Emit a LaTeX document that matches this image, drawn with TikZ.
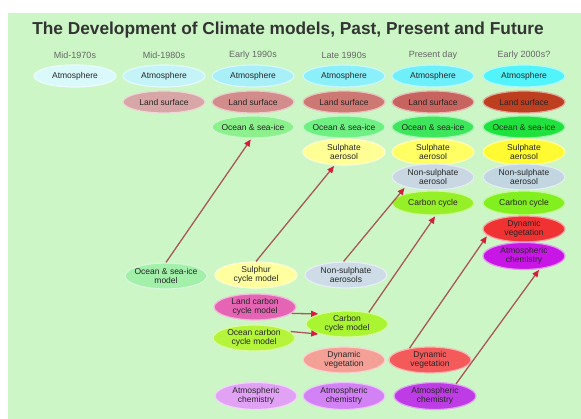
\documentclass[tikz,border=0pt]{standalone}
\usepackage{fontspec}
\setmainfont{Liberation Sans}
\usetikzlibrary{shapes.geometric,arrows.meta}
\definecolor{bg}{RGB}{204,246,198}
\definecolor{arrline}{RGB}{168,88,88}
\definecolor{arrred}{RGB}{212,30,60}
% atmosphere
\definecolor{atA}{RGB}{218,249,250}
\definecolor{atB}{RGB}{196,243,248}
\definecolor{atC}{RGB}{168,239,248}
\definecolor{atD}{RGB}{140,240,250}
\definecolor{atE}{RGB}{110,240,250}
\definecolor{atF}{RGB}{80,244,250}
% land
\definecolor{laB}{RGB}{216,166,166}
\definecolor{laC}{RGB}{210,140,140}
\definecolor{laD}{RGB}{206,120,115}
\definecolor{laE}{RGB}{200,100,95}
\definecolor{laF}{RGB}{190,62,32}
% ocean
\definecolor{ocC}{RGB}{140,240,140}
\definecolor{ocD}{RGB}{110,240,130}
\definecolor{ocE}{RGB}{62,230,92}
\definecolor{ocF}{RGB}{32,226,62}
% sulphate
\definecolor{suD}{RGB}{255,255,150}
\definecolor{suE}{RGB}{255,255,100}
\definecolor{suF}{RGB}{255,250,50}
% non-sulphate
\definecolor{nsE}{RGB}{200,215,226}
\definecolor{nsF}{RGB}{194,214,226}
% carbon
\definecolor{caE}{RGB}{150,240,40}
\definecolor{caF}{RGB}{130,240,30}
% dyn veg / chem
\definecolor{dvF}{RGB}{240,50,50}
\definecolor{acF}{RGB}{200,22,230}
% bottom
\definecolor{bOcm}{RGB}{162,240,170}
\definecolor{bScm}{RGB}{255,255,160}
\definecolor{bNsa}{RGB}{205,220,230}
\definecolor{bLcm}{RGB}{230,100,180}
\definecolor{bOcc}{RGB}{180,245,60}
\definecolor{bCcm}{RGB}{170,245,50}
\definecolor{bDvD}{RGB}{245,160,150}
\definecolor{bDvE}{RGB}{245,90,90}
\definecolor{bAcC}{RGB}{225,162,245}
\definecolor{bAcD}{RGB}{210,130,245}
\definecolor{bAcE}{RGB}{190,60,230}
\tikzset{
  blob/.style={ellipse, minimum width=82pt, inner sep=0pt, draw=#1!45!white, line width=1.2pt, fill=#1},
  txt/.style={align=center, font=\fontsize{8.5}{9.5}\selectfont, text=black!85, inner sep=0pt},
  collabel/.style={font=\fontsize{9}{10}\selectfont, text=black!60, inner sep=0pt},
  titlestyle/.style={font=\fontsize{17.3}{19}\selectfont\bfseries, text=black!80, inner sep=0pt},
  conn/.style={draw=arrline, line width=1.3pt, -{Triangle[length=7pt,width=6pt,color=arrred]}, shorten >=1pt, shorten <=0pt},
}
\newcommand\blobnode[5]{\node[blob=#3, minimum height=#4] (#1) at (#2) {}; \node[txt] (#1t) at (#1) {#5};}
\begin{document}
\begin{tikzpicture}[x=1pt,y=-1pt]
\useasboundingbox (0,0) rectangle (581,419);
\fill[white] (0,0) rectangle (581,419);
\fill[bg] (8,13) rectangle (581,419);
\node[titlestyle] (title) at (288,30) {The Development of Climate models, Past, Present and Future};
\node[collabel] (h1) at (75,55) {Mid-1970s};
\node[collabel] (h2) at (164,55) {Mid-1980s};
\node[collabel] (h3) at (253,55) {Early 1990s};
\node[collabel] (h4) at (344,55) {Late 1990s};
\node[collabel] (h5) at (433,55) {Present day};
\node[collabel] (h6) at (524,55) {Early 2000s?};
% row 1 atmosphere
\blobnode{a1}{75,76}{atA}{22pt}{Atmosphere}
\blobnode{a2}{164,76}{atB}{22pt}{Atmosphere}
\blobnode{a3}{253,76}{atC}{22pt}{Atmosphere}
\blobnode{a4}{344,76}{atD}{22pt}{Atmosphere}
\blobnode{a5}{433,76}{atE}{22pt}{Atmosphere}
\blobnode{a6}{524,76}{atF}{22pt}{Atmosphere}
% row 2 land
\blobnode{l2}{164,102}{laB}{22pt}{Land surface}
\blobnode{l3}{253,102}{laC}{22pt}{Land surface}
\blobnode{l4}{344,102}{laD}{22pt}{Land surface}
\blobnode{l5}{433,102}{laE}{22pt}{Land surface}
\blobnode{l6}{524,102}{laF}{22pt}{Land surface}
% row 3 ocean
\blobnode{o3}{253,127}{ocC}{22pt}{Ocean \& sea-ice}
\blobnode{o4}{344,127}{ocD}{22pt}{Ocean \& sea-ice}
\blobnode{o5}{433,127}{ocE}{22pt}{Ocean \& sea-ice}
\blobnode{o6}{524,127}{ocF}{22pt}{Ocean \& sea-ice}
% row 4 sulphate
\blobnode{s4}{344,152}{suD}{26pt}{Sulphate\\aerosol}
\blobnode{s5}{433,152}{suE}{26pt}{Sulphate\\aerosol}
\blobnode{s6}{524,152}{suF}{26pt}{Sulphate\\aerosol}
% row 5 non-sulphate
\blobnode{n5}{433,177}{nsE}{26pt}{Non-sulphate\\aerosol}
\blobnode{n6}{524,177}{nsF}{26pt}{Non-sulphate\\aerosol}
% row 6 carbon
\blobnode{c5}{433,203}{caE}{24pt}{Carbon cycle}
\blobnode{c6}{524,203}{caF}{24pt}{Carbon cycle}
% row 7, 8
\blobnode{d6}{524,229}{dvF}{26pt}{Dynamic\\vegetation}
\blobnode{ch6}{524,256}{acF}{27pt}{Atmospheric\\chemistry}
% bottom models
\blobnode{ocm}{166,276}{bOcm}{26pt}{Ocean \& sea-ice\\model}
\blobnode{scm}{256,275}{bScm}{26pt}{Sulphur\\cycle model}
\blobnode{nsa}{346,275}{bNsa}{26pt}{Non-sulphate\\aerosols}
\blobnode{lcm}{255,307}{bLcm}{26pt}{Land carbon\\cycle model}
\blobnode{occ}{254,338}{bOcc}{26pt}{Ocean carbon\\cycle model}
\blobnode{ccm}{347,324}{bCcm}{26pt}{Carbon\\cycle model}
\blobnode{dv4}{344,360}{bDvD}{26pt}{Dynamic\\vegetation}
\blobnode{dv5}{430,360}{bDvE}{26pt}{Dynamic\\vegetation}
\blobnode{ac3}{256,396}{bAcC}{27pt}{Atmospheric\\chemistry}
\blobnode{ac4}{344,396}{bAcD}{27pt}{Atmospheric\\chemistry}
\blobnode{ac5}{435,396}{bAcE}{27pt}{Atmospheric\\chemistry}
% connectors
\draw[conn] (ocm.north) -- (o3.262);
\draw[conn] (scm.north) -- (s4.235);
\draw[conn] (nsa.100) -- (n5.200);
\draw[conn] (ccm.28) -- (c5.282);
\draw[conn] (dv5.150) -- (d6.190);
\draw[conn] (ac5.30) -- (ch6.320);
\draw[conn] (lcm.-10) -- (ccm.160);
\draw[conn] (occ.10) -- (ccm.200);
\end{tikzpicture}
\end{document}
